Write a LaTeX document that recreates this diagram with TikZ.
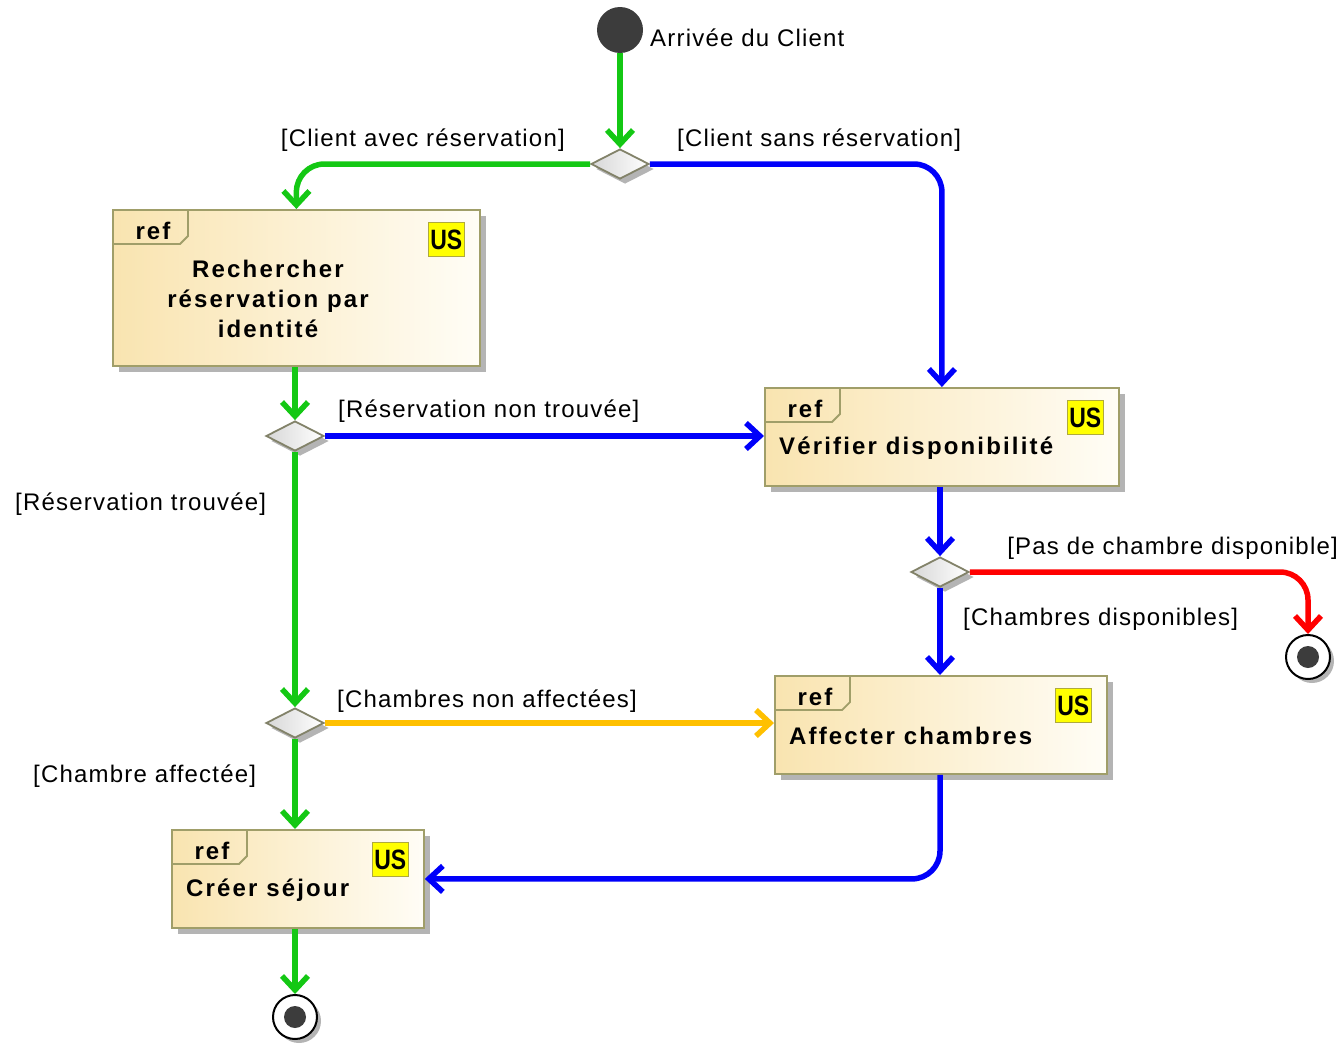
\documentclass[tikz,border=0pt]{standalone}
\usepackage{fontspec}
\setmainfont{Liberation Sans}
\newfontfamily\lblfont{Liberation Sans}[LetterSpace=5]
\newfontfamily\boxfont{Liberation Sans}[LetterSpace=9]
\usetikzlibrary{arrows.meta,shapes.geometric,shadows}
\definecolor{flowgreen}{RGB}{20,200,20}
\definecolor{flowblue}{RGB}{0,0,250}
\definecolor{flowred}{RGB}{255,0,0}
\definecolor{flowyellow}{RGB}{255,192,0}
\definecolor{boxborder}{RGB}{160,158,105}
\definecolor{boxL}{RGB}{249,228,176}
\definecolor{boxR}{RGB}{255,253,246}
\definecolor{shadowgray}{RGB}{180,180,180}
\definecolor{usyellow}{RGB}{255,255,0}
\definecolor{usborder}{RGB}{175,170,60}
\definecolor{diaborder}{RGB}{130,130,105}
\definecolor{diafill}{RGB}{215,215,215}
\definecolor{dotgray}{RGB}{60,60,60}
\newcommand\myrefframe[1]{%
  \draw[draw=boxborder, line width=1.8pt] (#1.north west) ++(76,0) -- ++(0,27) -- ++(-8,8) -- ++(-68,0);
  \path (#1.north west) ++(41,22) node[reflbl] (#1ref) {ref};
  \path (#1.north east) ++(-16,13) node[usbox] (#1us) {\scalebox{0.82}[1]{US}};
}
\begin{document}
\begin{tikzpicture}[x=1pt,y=-1pt,
  flow/.style={line width=5.5pt, rounded corners=28pt, -{Straight Barb[length=14pt,width=26pt]}},
  refbox/.style={draw=boxborder, line width=1.8pt, left color=boxL, right color=boxR,
    drop shadow={shadow xshift=6pt, shadow yshift=-6pt, fill=shadowgray, opacity=1},
    inner sep=0pt, anchor=north west},
  reflbl/.style={font=\boxfont\fontsize{24}{28}\selectfont\bfseries, inner sep=0pt},
  usbox/.style={anchor=north east, fill=usyellow, draw=usborder, line width=1pt,
    minimum width=36pt, minimum height=34pt, inner sep=0pt,
    font=\fontsize{28}{28}\selectfont\bfseries},
  boxtext/.style={font=\boxfont\fontsize{24}{30}\selectfont\bfseries, inner sep=0pt},
  lbl/.style={font=\lblfont\fontsize{24}{28}\selectfont, inner sep=0pt},
  decision/.style={diamond, draw=diaborder, line width=1.8pt, left color=diafill, right color=white,
    minimum width=58pt, minimum height=30pt, inner sep=0pt,
    drop shadow={shadow xshift=5pt, shadow yshift=-5pt, fill=shadowgray, opacity=1}},
  initial/.style={circle, fill=dotgray, minimum size=46pt, inner sep=0pt},
  final/.style={circle, draw=black, line width=2pt, fill=white, minimum size=44pt, inner sep=0pt,
    drop shadow={shadow xshift=4pt, shadow yshift=-4pt, fill=shadowgray, opacity=1}},
  finaldot/.style={circle, fill=dotgray, minimum size=22pt, inner sep=0pt}
]
\useasboundingbox (0,0) rectangle (1343,1044);

% nodes
\node[initial] (init) at (620,30) {};
\node[lbl, anchor=west] (initlbl) at (650,38) {Arrivée du Client};

\node[decision] (d1) at (620,164) {};
\node[decision] (d2) at (295,436) {};
\node[decision] (d3) at (295,723) {};
\node[decision] (d4) at (940,572) {};

\node[refbox, minimum width=367pt, minimum height=156pt] (b1) at (112,209) {};
\myrefframe{b1}
\node[boxtext, align=center] (b1t) at (268,299) {Rechercher\\réservation par\\identité};

\node[refbox, minimum width=354pt, minimum height=98pt] (b2) at (764,387) {};
\myrefframe{b2}
\node[boxtext, anchor=west] (b2t) at (779,448) {Vérifier disponibilité};

\node[refbox, minimum width=332pt, minimum height=98pt] (b3) at (774,675) {};
\myrefframe{b3}
\node[boxtext, anchor=west] (b3t) at (789,736) {Affecter chambres};

\node[refbox, minimum width=252pt, minimum height=98pt] (b4) at (171,829) {};
\myrefframe{b4}
\node[boxtext, anchor=west] (b4t) at (186,890) {Créer séjour};

\node[final] (f1) at (295,1017) {};
\node[finaldot] (f1dot) at (f1) {};
\node[final] (f2) at (1308,657) {};
\node[finaldot] (f2dot) at (f2) {};

% connectors
\draw[flow, flowgreen] (init) -- (d1.north);
\draw[flow, flowgreen] (d1.west) -| (b1.north);
\draw[flow, flowblue] (d1.east) -| (b2.north);
\draw[flow, flowgreen] (d2 |- b1.south) -- (d2.north);
\draw[flow, flowblue] (d2.east) -- (b2.west |- d2);
\draw[flow, flowgreen] (d2.south) -- (d3.north);
\draw[flow, flowyellow] (d3.east) -- (b3.west |- d3);
\draw[flow, flowgreen] (d3.south) -- (d3 |- b4.north);
\draw[flow, flowblue] (d4 |- b2.south) -- (d4.north);
\draw[flow, flowred] (d4.east) -| (f2.north);
\draw[flow, flowblue] (d4.south) -- (d4 |- b3.north);
\draw[flow, flowblue] (d4 |- b3.south) |- (b4.east);
\draw[flow, flowgreen] (d3 |- b4.south) -- (f1.north);

% guard labels
\node[lbl, anchor=east] (l1) at (565,140) {[Client avec réservation]};
\node[lbl, anchor=west] (l2) at (677,140) {[Client sans réservation]};
\node[lbl, anchor=west] (l3) at (338,411) {[Réservation non trouvée]};
\node[lbl, anchor=west] (l4) at (15,504) {[Réservation trouvée]};
\node[lbl, anchor=east] (l5) at (1338,548) {[Pas de chambre disponible]};
\node[lbl, anchor=west] (l6) at (963,619) {[Chambres disponibles]};
\node[lbl, anchor=west] (l7) at (337,701) {[Chambres non affectées]};
\node[lbl, anchor=west] (l8) at (33,776) {[Chambre affectée]};
\end{tikzpicture}
\end{document}
